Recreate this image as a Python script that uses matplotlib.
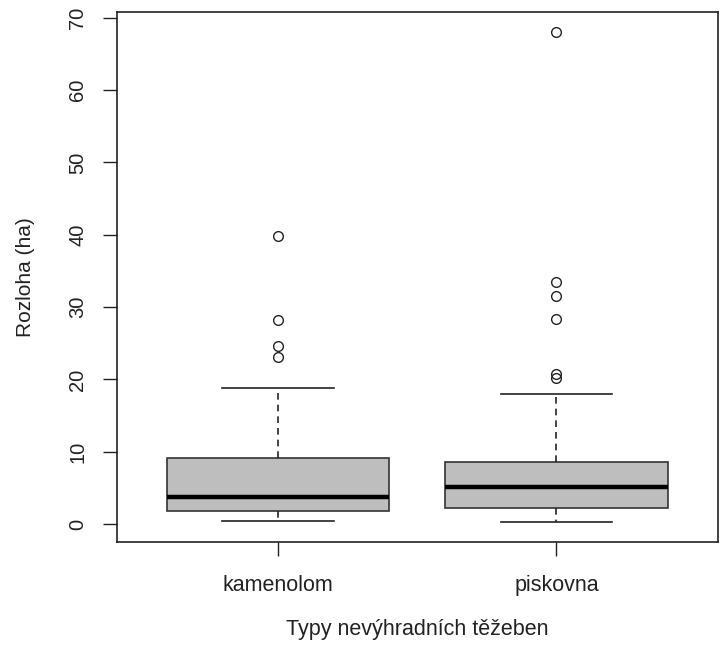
import matplotlib
matplotlib.use("Agg")
import matplotlib.pyplot as plt

categories = ["kamenolom", "piskovna"]
whisker_low = [0.46, 0.23]
q1 = [1.76, 2.17]
median = [3.69, 5.07]
q3 = [9.17, 8.53]
whisker_high = [18.8, 18.0]
outliers = [
    [39.8, 28.2, 24.6, 23.06],
    [68.0, 33.5, 31.5, 28.3, 20.8, 20.15],
]
yticks = [0, 10, 20, 30, 40, 50, 60, 70]

plt.rcParams['font.family'] = ['Liberation Sans', 'DejaVu Sans']

fig = plt.figure(figsize=(7.2, 6.5), dpi=100)
ax = fig.add_axes([0.162, 0.166, 0.835, 0.8155])

stats = []
for i, c in enumerate(categories):
    stats.append(dict(label=c, whislo=whisker_low[i], q1=q1[i], med=median[i],
                      q3=q3[i], whishi=whisker_high[i], fliers=outliers[i]))

ax.bxp(stats, positions=[1, 2], widths=0.8, patch_artist=True, showfliers=True,
       boxprops=dict(facecolor='#BEBEBE', edgecolor='#333333', linewidth=1.2),
       medianprops=dict(color='black', linewidth=3.2, solid_capstyle='butt'),
       whiskerprops=dict(color='#222222', linewidth=1.2, linestyle=(0, (4, 3))),
       capprops=dict(color='#222222', linewidth=1.2),
       flierprops=dict(marker='o', markerfacecolor='none', markeredgecolor='#222222',
                       markersize=7, markeredgewidth=1.0),
       capwidths=0.4)

ax.set_xlim(0.42, 2.58)
ax.set_ylim(-2.48, 70.8)
ax.set_yticks(yticks)
ax.set_yticklabels([str(t) for t in yticks], rotation=90, va='center', fontsize=14.5, color='#222222')
ax.set_xticks([1, 2])
ax.set_xticklabels(categories, fontsize=15.5, color='#222222')
ax.tick_params(axis='both', length=10, width=1.0, color='#222222')
ax.tick_params(axis='y', pad=11)
ax.tick_params(axis='x', pad=14)
for s in ax.spines.values():
    s.set_linewidth(1.2)
    s.set_color('#222222')

ax.set_ylabel("Rozloha (ha)", fontsize=15, color='#222222', labelpad=24)
ax.set_xlabel("Typy nevýhradních těžeben", fontsize=15.5, color='#222222', labelpad=16)

fig.savefig("out.png", dpi=100)
